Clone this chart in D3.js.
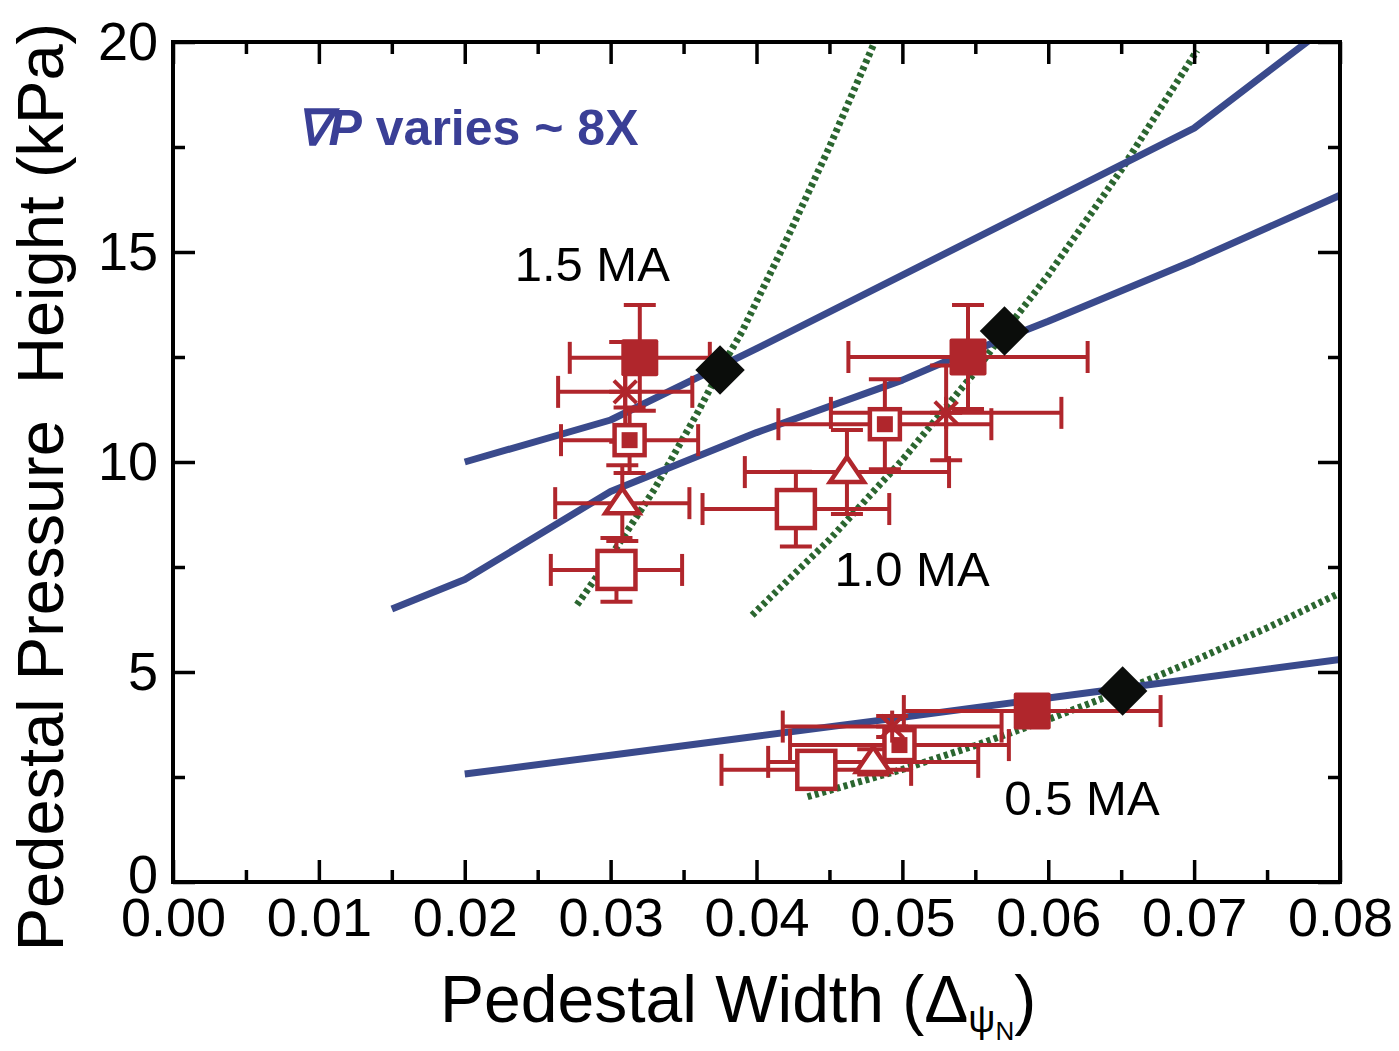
<!DOCTYPE html>
<html>
<head>
<meta charset="utf-8">
<script src="https://cdn.jsdelivr.net/npm/d3@7"></script>
<style>
  html, body { margin: 0; padding: 0; background: #fff; }
  svg { display: block; }
  text { font-family: "Liberation Sans", Arial, Helvetica, sans-serif; }
</style>
</head>
<body>
<svg id="chart" width="1399" height="1051"></svg>
<script>
// ---- Axis ticks ----
const xMajorTicks = [0.00, 0.01, 0.02, 0.03, 0.04, 0.05, 0.06, 0.07, 0.08];
const xMinorTicks = [0.005, 0.015, 0.025, 0.035, 0.045, 0.055, 0.065, 0.075];
const yMajorTicks = [0, 5, 10, 15, 20];
const yMinorTicks = [2.5, 7.5, 12.5, 17.5];

// ---- Peeling-ballooning limit curves (blue), [width, height kPa] ----
const pbCurve15 = [[0.020, 10.0], [0.030, 11.0], [0.040, 12.7], [0.050, 14.45], [0.060, 16.2], [0.070, 17.95], [0.080, 20.6]];
const pbCurve10 = [[0.015, 6.5], [0.020, 7.2], [0.030, 9.3], [0.040, 10.7], [0.050, 11.95], [0.053, 12.4], [0.060, 13.35], [0.070, 14.8], [0.080, 16.35]];
const pbCurve05 = [[0.020, 2.57], [0.030, 3.02], [0.040, 3.47], [0.050, 3.92], [0.060, 4.38], [0.070, 4.84], [0.080, 5.3]];

// ---- KBM width constraint curves (green dotted) ----
const kbmCurve15 = [[0.0277, 6.6], [0.030, 7.75], [0.033, 9.35], [0.036, 11.2], [0.0375, 12.2], [0.039, 13.1], [0.042, 15.25], [0.045, 17.5], [0.0481, 20.0]];
const kbmCurve10 = [[0.0397, 6.35], [0.045, 8.15], [0.050, 10.05], [0.055, 12.15], [0.057, 13.1], [0.060, 14.45], [0.065, 16.95], [0.0702, 19.8]];
const kbmCurve05 = [[0.0435, 2.03], [0.050, 2.68], [0.055, 3.25], [0.060, 3.87], [0.0652, 4.57], [0.070, 5.27], [0.075, 6.05], [0.080, 6.88]];

// ---- Predicted pedestal (black diamonds) ----
const predWidth  = [0.0375, 0.0570, 0.0651];
const predHeight = [12.19, 13.12, 4.55];

// ---- Measurements: [width, height, widthErr, heightErr] for 1.5, 1.0, 0.5 MA ----
const filledSquarePts = [[0.0320, 12.48, 0.0048, 1.26], [0.0545, 12.50, 0.0082, 1.24], [0.0589, 4.07, 0.0088, 0.30]];
const asteriskPts     = [[0.0310, 11.67, 0.0046, 1.19], [0.0530, 11.17, 0.0079, 1.13], [0.0493, 3.70, 0.0075, 0.25]];
const boxedDotPts     = [[0.0313, 10.52, 0.0047, 0.78], [0.0488, 10.90, 0.0073, 1.07], [0.0498, 3.26, 0.0075, 0.30]];
const trianglePts     = [[0.0308, 9.02, 0.0046, 0.90], [0.0462, 9.76, 0.0070, 1.00], [0.0480, 2.86, 0.0072, 0.30]];
const openSquarePts   = [[0.0304, 7.43, 0.0045, 0.76], [0.0427, 8.88, 0.0064, 0.89], [0.0441, 2.67, 0.0065, 0.30]];

// ---- Annotations ----
const currentLabels = ["1.5 MA", "1.0 MA", "0.5 MA"];
const currentLabelPos = [[0.02342, 14.3], [0.04534, 7.05], [0.05699, 1.6]];

const RED = "#b0262c", BLUE = "#3a4a8c", GREEN = "#2b6630", TEXTBLUE = "#3a3f96";

const svg = d3.select("#chart");
const x = d3.scaleLinear().domain([0, 0.08]).range([173, 1340]);
const y = d3.scaleLinear().domain([0, 20]).range([882, 42]);

svg.append("defs").append("clipPath").attr("id", "plotClip")
  .append("rect").attr("x", 173).attr("y", 42).attr("width", 1167).attr("height", 840);

const plot = svg.append("g").attr("clip-path", "url(#plotClip)");
const line = d3.line().x(d => x(d[0])).y(d => y(d[1]));

// green dotted KBM curves
[kbmCurve15, kbmCurve10, kbmCurve05].forEach(c => {
  plot.append("path").attr("d", line(c)).attr("fill", "none")
    .attr("stroke", GREEN).attr("stroke-width", 7).attr("stroke-dasharray", "4,3.5");
});
// blue peeling-ballooning curves
[pbCurve15, pbCurve10, pbCurve05].forEach(c => {
  plot.append("path").attr("d", line(c)).attr("fill", "none")
    .attr("stroke", BLUE).attr("stroke-width", 7).attr("stroke-linejoin", "round");
});

// measurement error bars
const allPts = [filledSquarePts, asteriskPts, boxedDotPts, trianglePts, openSquarePts];
const bars = plot.append("g").attr("stroke", RED).attr("stroke-width", 4).attr("fill", "none");
const CAP = 16;
allPts.forEach(series => series.forEach(([vx, vy, ex, ey]) => {
  const cx = x(vx), cy = y(vy);
  const xa = x(vx - ex), xb = x(vx + ex), ya = y(vy + ey), yb = y(vy - ey);
  bars.append("line").attr("x1", xa).attr("x2", xb).attr("y1", cy).attr("y2", cy);
  bars.append("line").attr("x1", xa).attr("x2", xa).attr("y1", cy - CAP).attr("y2", cy + CAP);
  bars.append("line").attr("x1", xb).attr("x2", xb).attr("y1", cy - CAP).attr("y2", cy + CAP);
  bars.append("line").attr("x1", cx).attr("x2", cx).attr("y1", ya).attr("y2", yb);
  bars.append("line").attr("x1", cx - CAP).attr("x2", cx + CAP).attr("y1", ya).attr("y2", ya);
  bars.append("line").attr("x1", cx - CAP).attr("x2", cx + CAP).attr("y1", yb).attr("y2", yb);
}));

// markers
const marks = plot.append("g");
marks.selectAll(".openSq").data(openSquarePts).join("rect")
  .attr("x", d => x(d[0]) - 19).attr("y", d => y(d[1]) - 19).attr("width", 38).attr("height", 38)
  .attr("fill", "#fff").attr("stroke", RED).attr("stroke-width", 4.5);
marks.selectAll(".tri").data(trianglePts).join("path")
  .attr("transform", d => `translate(${x(d[0])},${y(d[1])})`)
  .attr("d", "M0,-15 L17,10 L-17,10 Z")
  .attr("fill", "#fff").attr("stroke", RED).attr("stroke-width", 4.5).attr("stroke-linejoin", "miter");
marks.selectAll(".boxOuter").data(boxedDotPts).join("rect")
  .attr("x", d => x(d[0]) - 15).attr("y", d => y(d[1]) - 15).attr("width", 30).attr("height", 30)
  .attr("fill", "#fff").attr("stroke", RED).attr("stroke-width", 4.5);
marks.selectAll(".boxInner").data(boxedDotPts).join("rect")
  .attr("x", d => x(d[0]) - 8).attr("y", d => y(d[1]) - 8).attr("width", 16).attr("height", 16)
  .attr("fill", RED);
asteriskPts.forEach(d => {
  const g = marks.append("g").attr("transform", `translate(${x(d[0])},${y(d[1])})`)
    .attr("stroke", RED).attr("stroke-width", 4);
  [0, 45, 90, 135].forEach(a => {
    g.append("line").attr("x1", -16).attr("x2", 16).attr("y1", 0).attr("y2", 0)
      .attr("transform", `rotate(${a})`);
  });
});
marks.selectAll(".fillSq").data(filledSquarePts).join("rect")
  .attr("x", d => x(d[0]) - 18.5).attr("y", d => y(d[1]) - 18.5).attr("width", 37).attr("height", 37)
  .attr("rx", 2).attr("fill", RED);

// predicted pedestal diamonds
const diamond = d3.symbol().type(d3.symbolSquare).size(35 * 35);
plot.selectAll(".pred").data(predWidth).join("path")
  .attr("d", diamond)
  .attr("transform", (d, i) => `translate(${x(d)},${y(predHeight[i])}) rotate(45)`)
  .attr("fill", "#0b0d0b");

// ---- Axes with inward ticks on all four sides ----
function styleAxis(g) {
  g.select(".domain").remove();
  g.selectAll(".tick line").attr("stroke", "#000").attr("stroke-width", 3.5);
  g.selectAll(".tick text").attr("font-size", 54).attr("fill", "#000")
    .style("font-family", '"Liberation Sans", Arial, sans-serif');
}
svg.append("g").attr("transform", "translate(0,882)")
  .call(d3.axisBottom(x).tickValues(xMajorTicks).tickSize(-22).tickPadding(16).tickFormat(d3.format(".2f")))
  .call(styleAxis);
svg.append("g").attr("transform", "translate(0,882)")
  .call(d3.axisBottom(x).tickValues(xMinorTicks).tickSize(-12).tickFormat(""))
  .call(styleAxis);
svg.append("g").attr("transform", "translate(0,42)")
  .call(d3.axisTop(x).tickValues(xMajorTicks).tickSize(-22).tickFormat(""))
  .call(styleAxis);
svg.append("g").attr("transform", "translate(0,42)")
  .call(d3.axisTop(x).tickValues(xMinorTicks).tickSize(-12).tickFormat(""))
  .call(styleAxis);
const yAxisG = svg.append("g").attr("transform", "translate(173,0)")
  .call(d3.axisLeft(y).tickValues(yMajorTicks).tickSize(-22).tickPadding(15).tickFormat(d3.format("d")))
  .call(styleAxis);
// the zero label sits slightly raised so it clears the x-axis labels
yAxisG.selectAll(".tick text").filter(d => d === 0).attr("dy", "0.2em");
svg.append("g").attr("transform", "translate(173,0)")
  .call(d3.axisLeft(y).tickValues(yMinorTicks).tickSize(-12).tickFormat(""))
  .call(styleAxis);
svg.append("g").attr("transform", "translate(1340,0)")
  .call(d3.axisRight(y).tickValues(yMajorTicks).tickSize(-22).tickFormat(""))
  .call(styleAxis);
svg.append("g").attr("transform", "translate(1340,0)")
  .call(d3.axisRight(y).tickValues(yMinorTicks).tickSize(-12).tickFormat(""))
  .call(styleAxis);

// frame
svg.append("rect").attr("x", 173).attr("y", 42).attr("width", 1167).attr("height", 840)
  .attr("fill", "none").attr("stroke", "#000").attr("stroke-width", 4);

// ---- Axis titles ----
svg.append("text")
  .attr("transform", "translate(63,487) rotate(-90)")
  .attr("text-anchor", "middle").attr("font-size", 65).attr("fill", "#000")
  .style("white-space", "pre")
  .text("Pedestal Pressure  Height (kPa)");

const xt = svg.append("text").attr("x", 440).attr("y", 1022).attr("font-size", 66).attr("fill", "#000");
xt.append("tspan").text("Pedestal Width (Δ");
xt.append("tspan").attr("font-size", 38).attr("dy", 10).text("ψ");
xt.append("tspan").attr("font-size", 26).attr("dy", 8).text("N");
xt.append("tspan").attr("dy", -18).text(")");

// ---- Annotations ----
svg.selectAll(".ipLabel").data(currentLabels).join("text")
  .attr("x", (d, i) => x(currentLabelPos[i][0]))
  .attr("y", (d, i) => y(currentLabelPos[i][1]))
  .attr("font-size", 49).attr("fill", "#000")
  .text(d => d);

const note = svg.append("text").attr("x", x(0.0084)).attr("y", y(17.55))
  .attr("font-size", 50).attr("font-weight", "bold").attr("fill", TEXTBLUE);
note.append("tspan").attr("font-style", "italic").text("∇P");
note.append("tspan").text(" varies ~ 8X");
</script>
</body>
</html>
